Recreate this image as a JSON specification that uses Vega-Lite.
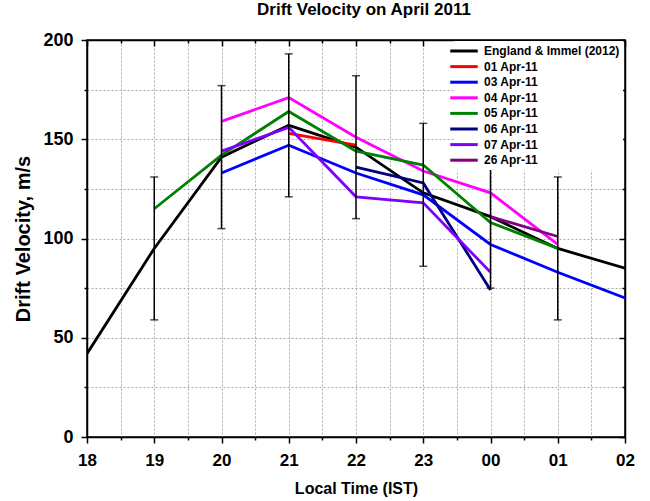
{
  "$schema": "https://vega.github.io/schema/vega-lite/v6.json",
  "width": 538,
  "height": 397,
  "autosize": "none",
  "padding": {"left": 87, "top": 40, "right": 25, "bottom": 64},
  "background": "white",
  "title": {"text": "Drift Velocity on April 2011", "fontSize": 17, "font": "Liberation Sans", "fontWeight": "bold", "color": "black", "anchor": "middle", "offset": 12, "dx": 8},
  "config": {
    "font": "Liberation Sans",
    "view": {"stroke": "black", "strokeWidth": 1.5},
    "axis": {"domainColor": "black", "domainWidth": 1.5, "tickColor": "black", "tickWidth": 1.5, "labelColor": "black", "titleColor": "black", "labelFont": "Liberation Sans", "titleFont": "Liberation Sans", "labelFontWeight": "bold", "titleFontWeight": "bold", "gridColor": "#aaaaaa", "gridDash": [2, 2], "gridWidth": 1}
  },
  "datasets": {
    "lines": [
      {"series": "England & Immel (2012)", "t": 18, "v": 42},
      {"series": "England & Immel (2012)", "t": 19, "v": 95},
      {"series": "England & Immel (2012)", "t": 20, "v": 141},
      {"series": "England & Immel (2012)", "t": 21, "v": 157},
      {"series": "England & Immel (2012)", "t": 22, "v": 146},
      {"series": "England & Immel (2012)", "t": 23, "v": 123},
      {"series": "England & Immel (2012)", "t": 24, "v": 111},
      {"series": "England & Immel (2012)", "t": 25, "v": 95},
      {"series": "England & Immel (2012)", "t": 26, "v": 85},
      {"series": "01 Apr-11", "t": 21, "v": 153},
      {"series": "01 Apr-11", "t": 22, "v": 147},
      {"series": "03 Apr-11", "t": 20, "v": 133},
      {"series": "03 Apr-11", "t": 21, "v": 147},
      {"series": "03 Apr-11", "t": 22, "v": 133},
      {"series": "03 Apr-11", "t": 23, "v": 122},
      {"series": "03 Apr-11", "t": 24, "v": 97},
      {"series": "03 Apr-11", "t": 25, "v": 83},
      {"series": "03 Apr-11", "t": 26, "v": 70},
      {"series": "04 Apr-11", "t": 20, "v": 159},
      {"series": "04 Apr-11", "t": 21, "v": 171},
      {"series": "04 Apr-11", "t": 22, "v": 151},
      {"series": "04 Apr-11", "t": 23, "v": 134},
      {"series": "04 Apr-11", "t": 24, "v": 123},
      {"series": "04 Apr-11", "t": 25, "v": 97},
      {"series": "05 Apr-11", "t": 19, "v": 115},
      {"series": "05 Apr-11", "t": 20, "v": 142},
      {"series": "05 Apr-11", "t": 21, "v": 164},
      {"series": "05 Apr-11", "t": 22, "v": 144},
      {"series": "05 Apr-11", "t": 23, "v": 137},
      {"series": "05 Apr-11", "t": 24, "v": 108},
      {"series": "05 Apr-11", "t": 25, "v": 95},
      {"series": "06 Apr-11", "t": 22, "v": 136},
      {"series": "06 Apr-11", "t": 23, "v": 128},
      {"series": "06 Apr-11", "t": 24, "v": 74},
      {"series": "07 Apr-11", "t": 20, "v": 144},
      {"series": "07 Apr-11", "t": 21, "v": 156},
      {"series": "07 Apr-11", "t": 22, "v": 121},
      {"series": "07 Apr-11", "t": 23, "v": 118},
      {"series": "07 Apr-11", "t": 24, "v": 83},
      {"series": "26 Apr-11", "t": 24, "v": 111},
      {"series": "26 Apr-11", "t": 25, "v": 101}
    ],
    "err": [
      {"t": 19, "lo": 59, "hi": 131},
      {"t": 20, "lo": 105, "hi": 177},
      {"t": 21, "lo": 121, "hi": 193},
      {"t": 22, "lo": 110, "hi": 182},
      {"t": 23, "lo": 86, "hi": 158},
      {"t": 24, "lo": 75, "hi": 147},
      {"t": 25, "lo": 59, "hi": 131}
    ]
  },
  "resolve": {"axis": {"x": "independent", "y": "independent"}},
  "layer": [
    {
      "data": {"name": "lines"},
      "mark": {"type": "line", "strokeWidth": 2.8, "clip": true},
      "encoding": {
        "x": {"field": "t", "type": "quantitative", "scale": {"domain": [18, 26], "nice": false, "zero": false},
          "axis": {"orient": "bottom", "values": [18, 18.5, 19, 19.5, 20, 20.5, 21, 21.5, 22, 22.5, 23, 23.5, 24, 24.5, 25, 25.5, 26],
            "labelExpr": "datum.value % 1 == 0 ? (datum.value < 24 ? format(datum.value, 'd') : '0' + format(datum.value - 24, 'd')) : ''",
            "tickSize": {"condition": {"test": "datum.value % 1 == 0", "value": 6}, "value": 3},
            "labelFontSize": 17, "labelPadding": 9, "labelOverlap": false, "labelFlush": false,
            "title": "Local Time (IST)", "titleFontSize": 16, "titlePadding": 12, "grid": true}},
        "y": {"field": "v", "type": "quantitative", "scale": {"domain": [0, 200], "nice": false},
          "axis": {"orient": "left", "values": [0, 25, 50, 75, 100, 125, 150, 175, 200],
            "labelExpr": "datum.value % 50 == 0 ? format(datum.value, 'd') : ''",
            "tickSize": {"condition": {"test": "datum.value % 50 == 0", "value": 6}, "value": 3},
            "labelFontSize": 18, "labelPadding": 8, "labelOverlap": false, "labelFlush": false,
            "title": "Drift Velocity, m/s", "titleFontSize": 20, "titlePadding": 9, "grid": true}},
        "color": {"field": "series", "type": "nominal",
          "scale": {"domain": ["England & Immel (2012)", "01 Apr-11", "03 Apr-11", "04 Apr-11", "05 Apr-11", "06 Apr-11", "07 Apr-11", "26 Apr-11"],
            "range": ["#000000", "#ff0000", "#0000ff", "#ff00ff", "#008000", "#000080", "#8000ff", "#800080"]},
          "legend": {"title": null, "orient": "none", "legendX": 367, "legendY": 1, "fillColor": "white", "padding": 3,
            "symbolType": "M-2.5,0H2.5", "symbolSize": 121, "symbolStrokeWidth": 3, "labelFontSize": 12, "labelFont": "Liberation Sans", "labelFontWeight": "bold", "labelColor": "black", "labelOffset": 13, "rowPadding": 2.6, "labelLimit": 300}},
        "order": {"value": 0}
      }
    },
    {
      "data": {"name": "err"},
      "mark": {"type": "rule", "color": "black", "strokeWidth": 1.5},
      "encoding": {
        "x": {"field": "t", "type": "quantitative", "axis": null},
        "y": {"field": "lo", "type": "quantitative", "axis": null},
        "y2": {"field": "hi"}
      }
    },
    {
      "data": {"name": "err"},
      "mark": {"type": "tick", "color": "black", "thickness": 1.5, "size": 8, "orient": "horizontal"},
      "encoding": {
        "x": {"field": "t", "type": "quantitative", "axis": null},
        "y": {"field": "lo", "type": "quantitative", "axis": null}
      }
    },
    {
      "data": {"name": "err"},
      "mark": {"type": "tick", "color": "black", "thickness": 1.5, "size": 8, "orient": "horizontal"},
      "encoding": {
        "x": {"field": "t", "type": "quantitative", "axis": {"orient": "top", "values": [18, 18.5, 19, 19.5, 20, 20.5, 21, 21.5, 22, 22.5, 23, 23.5, 24, 24.5, 25, 25.5, 26], "labels": false, "title": null, "grid": false, "tickSize": {"condition": {"test": "datum.value % 1 == 0", "value": -6}, "value": -3}}},
        "y": {"field": "hi", "type": "quantitative", "axis": {"orient": "right", "values": [0, 25, 50, 75, 100, 125, 150, 175, 200], "labels": false, "title": null, "grid": false, "tickSize": {"condition": {"test": "datum.value % 50 == 0", "value": -6}, "value": -3}}}
      }
    }
  ]
}
